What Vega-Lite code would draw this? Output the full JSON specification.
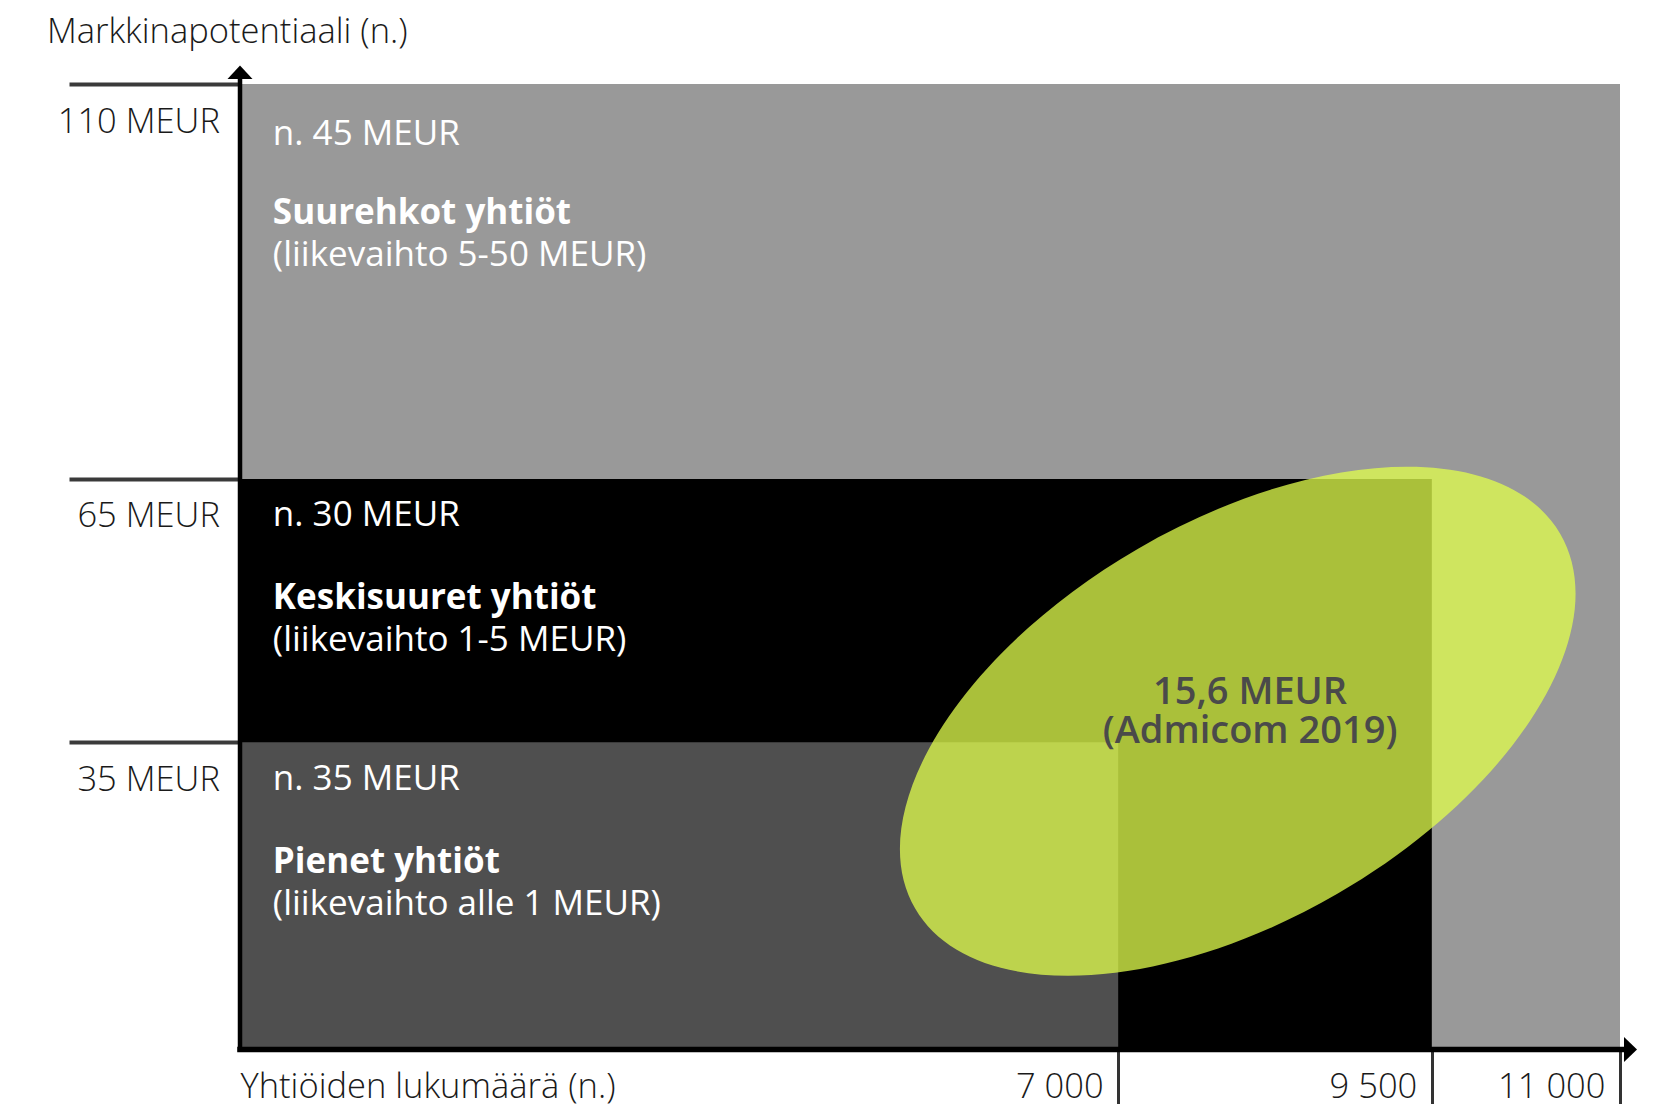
{
  "$schema": "https://vega.github.io/schema/vega-lite/v6.json",
  "width": 1380,
  "height": 965.5,
  "autosize": {"type": "none"},
  "padding": {"left": 240, "top": 84, "right": 34, "bottom": 54.5},
  "background": "#ffffff",
  "config": {"view": {"stroke": null}, "font": "Open Sans"},
  "datasets": {
    "regions": [
      {"segment": "Suurehkot", "x": 0, "x2": 11000, "y": 0, "y2": 110},
      {"segment": "Keskisuuret", "x": 0, "x2": 9500, "y": 0, "y2": 65},
      {"segment": "Pienet", "x": 0, "x2": 7000, "y": 0, "y2": 35}
    ],
    "labels": [
      {"kind": "value", "label": "n. 45 MEUR", "x": 262, "y": 104.3},
      {"kind": "title", "label": "Suurehkot yhtiöt", "x": 262, "y": 95.28},
      {"kind": "desc", "label": "(liikevaihto 5-50 MEUR)", "x": 262, "y": 90.48},
      {"kind": "value", "label": "n. 30 MEUR", "x": 262, "y": 60.91},
      {"kind": "title", "label": "Keskisuuret yhtiöt", "x": 262, "y": 51.42},
      {"kind": "desc", "label": "(liikevaihto 1-5 MEUR)", "x": 262, "y": 46.61},
      {"kind": "value", "label": "n. 35 MEUR", "x": 262, "y": 30.8},
      {"kind": "title", "label": "Pienet yhtiöt", "x": 262, "y": 21.4},
      {"kind": "desc", "label": "(liikevaihto alle 1 MEUR)", "x": 262, "y": 16.6}
    ],
    "admicom": [
      {"name": "Admicom 2019", "x": 7953, "y": 37.4}
    ],
    "admicomText": [
      {"label": "15,6 MEUR", "x": 8051, "y": 40.6},
      {"label": "(Admicom 2019)", "x": 8051, "y": 36.15}
    ],
    "axisLines": [
      {"part": "y", "x": 0, "x2": 0, "y": 0, "y2": 110.57},
      {"part": "x", "x": 0, "x2": 11032, "y": 0, "y2": 0}
    ],
    "arrows": [
      {"part": "y", "x": 0, "y": 110.57},
      {"part": "x", "x": 11032, "y": 0}
    ]
  },
  "encoding": {
    "x": {
      "field": "x", "type": "quantitative",
      "scale": {"domain": [0, 11000], "nice": false, "zero": true},
      "axis": {
        "domain": false, "grid": false,
        "values": [7000, 9500, 11000],
        "tickSize": 55, "tickWidth": 3, "tickColor": "#333333",
        "labelExpr": "replace(format(datum.value, ','), ',', ' ')",
        "labelAlign": "right", "labelBaseline": "middle",
        "labelPadding": -17, "labelOffset": -15,
        "labelFlush": false, "labelOverlap": false,
        "labelFont": "Open Sans", "labelFontSize": 34.5, "labelFontWeight": 300, "labelColor": "#1a1a1a",
        "title": "Yhtiöiden lukumäärä (n.)",
        "titleX": 0, "titleY": 38, "titleAlign": "left", "titleBaseline": "middle",
        "titleFont": "Open Sans", "titleFontSize": 34.5, "titleFontWeight": 300, "titleColor": "#1a1a1a"
      }
    },
    "y": {
      "field": "y", "type": "quantitative",
      "scale": {"domain": [0, 110], "nice": false, "zero": true},
      "axis": {
        "domain": false, "grid": false,
        "values": [35, 65, 110],
        "tickSize": 171, "tickWidth": 4, "tickColor": "#3a3a3a",
        "labelExpr": "datum.value + ' MEUR'",
        "labelAlign": "right", "labelBaseline": "middle",
        "labelPadding": -150.4, "labelOffset": 38,
        "labelFlush": false, "labelOverlap": false,
        "labelFont": "Open Sans", "labelFontSize": 34.5, "labelFontWeight": 300, "labelColor": "#1a1a1a",
        "title": "Markkinapotentiaali (n.)",
        "titleX": -193.6, "titleY": -51.5, "titleAngle": 0, "titleAlign": "left", "titleBaseline": "middle",
        "titleFont": "Open Sans", "titleFontSize": 34.5, "titleFontWeight": 300, "titleColor": "#1a1a1a"
      }
    }
  },
  "layer": [
    {
      "data": {"name": "regions"},
      "mark": {"type": "rect", "strokeWidth": 0},
      "encoding": {
        "x2": {"field": "x2"},
        "y2": {"field": "y2"},
        "color": {
          "field": "segment", "type": "nominal",
          "scale": {"domain": ["Suurehkot", "Keskisuuret", "Pienet"], "range": ["#999999", "#000000", "#4f4f4f"]},
          "legend": null
        }
      }
    },
    {
      "data": {"name": "labels"},
      "transform": [{"filter": "datum.kind != 'title'"}],
      "mark": {"type": "text", "align": "left", "baseline": "middle", "font": "Open Sans", "fontSize": 35, "fontWeight": 400, "color": "#ffffff"},
      "encoding": {
        "text": {"field": "label"}
      }
    },
    {
      "data": {"name": "labels"},
      "transform": [{"filter": "datum.kind == 'title'"}],
      "mark": {"type": "text", "align": "left", "baseline": "middle", "font": "Open Sans", "fontSize": 35, "fontWeight": 700, "color": "#ffffff"},
      "encoding": {
        "text": {"field": "label"}
      }
    },
    {
      "data": {"name": "admicom"},
      "mark": {
        "type": "point",
        "shape": "M -1 0 C -1 -0.2951 -0.5523 -0.5343 0 -0.5343 C 0.5523 -0.5343 1 -0.2951 1 0 C 1 0.2951 0.5523 0.5343 0 0.5343 C -0.5523 0.5343 -1 0.2951 -1 0 Z",
        "size": 556516,
        "angle": 329.86,
        "filled": true,
        "fill": "#e1fe4d",
        "opacity": 0.755,
        "strokeWidth": 0
      },
      "encoding": {}
    },
    {
      "data": {"name": "admicomText"},
      "mark": {"type": "text", "align": "center", "baseline": "middle", "font": "Open Sans", "fontSize": 38, "fontWeight": 600, "color": "#4a4a4a"},
      "encoding": {
        "text": {"field": "label"}
      }
    },
    {
      "data": {"name": "axisLines"},
      "transform": [{"filter": "datum.part == 'y'"}],
      "mark": {"type": "rule", "color": "#000000", "strokeWidth": 4.5, "strokeCap": "square"},
      "encoding": {
        "x2": {"field": "x2"},
        "y2": {"field": "y2"}
      }
    },
    {
      "data": {"name": "axisLines"},
      "transform": [{"filter": "datum.part == 'x'"}],
      "mark": {"type": "rule", "color": "#000000", "strokeWidth": 5.5, "strokeCap": "square"},
      "encoding": {
        "x2": {"field": "x2"},
        "y2": {"field": "y2"}
      }
    },
    {
      "data": {"name": "arrows"},
      "mark": {"type": "point", "filled": true, "size": 625, "opacity": 1, "color": "#000000", "strokeWidth": 0},
      "encoding": {
        "shape": {
          "field": "part", "type": "nominal",
          "scale": {"domain": ["y", "x"], "range": ["M -1 0 L 1 0 L 0 -1.07 Z", "M 0 -1 L 1.04 0 L 0 1 Z"]},
          "legend": null
        }
      }
    }
  ]
}
